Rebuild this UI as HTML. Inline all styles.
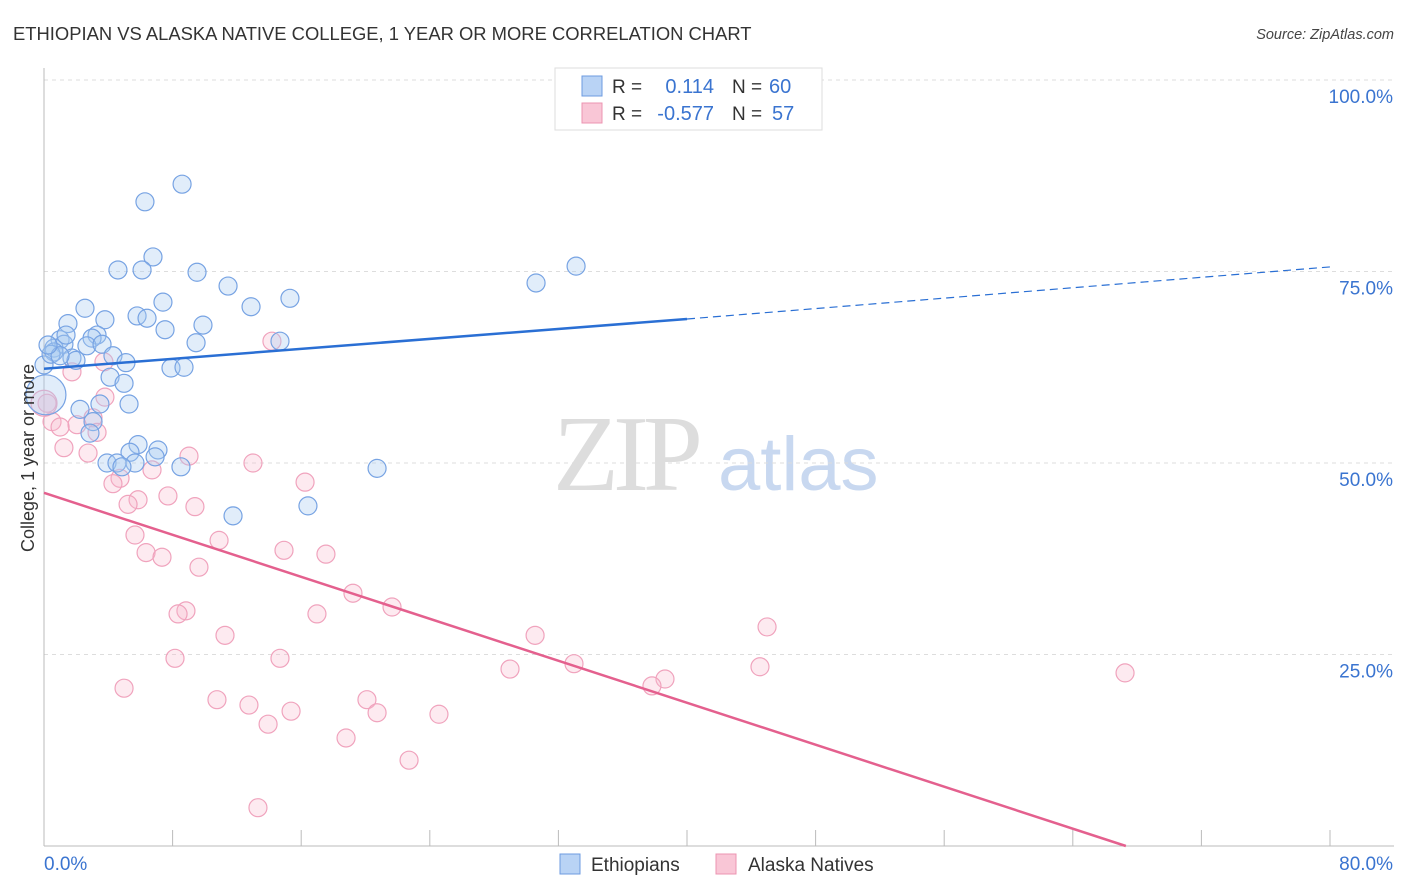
<!DOCTYPE html>
<html><head><meta charset="utf-8"><style>
body{margin:0;background:#fff;font-family:"Liberation Sans",sans-serif}
</style></head><body>
<svg id="c" width="1406" height="892" xmlns="http://www.w3.org/2000/svg" style="display:block">
<text x="13" y="40" font-size="18.4" fill="#333">ETHIOPIAN VS ALASKA NATIVE COLLEGE, 1 YEAR OR MORE CORRELATION CHART</text>
<text x="1394" y="39" font-size="14.5" font-style="italic" fill="#444" text-anchor="end">Source: ZipAtlas.com</text>
<g>
<text x="553" y="490" font-size="108" font-family="Liberation Serif" fill="#ddd" letter-spacing="-6">ZIP</text>
<text x="718" y="490" font-size="76" fill="#c8d8f0">atlas</text></g>
<g id="grid"></g><g id="axes"></g><g id="pts"></g><g id="lines"></g>
<text transform="translate(34,458) rotate(-90)" font-size="18" fill="#333" text-anchor="middle">College, 1 year or more</text>
<g>
<rect x="555" y="68" width="267" height="62" fill="#fff" stroke="#ddd"/>
<rect x="582" y="76" width="20" height="20" fill="#b9d3f5" stroke="#6d9be0"/>
<rect x="582" y="103" width="20" height="20" fill="#f9c6d6" stroke="#ec94b1"/>
<text x="612" y="93" font-size="19" fill="#333">R =</text><text x="714" y="93" font-size="20" fill="#3a74d0" text-anchor="end">0.114</text>
<text x="732" y="93" font-size="19" fill="#333">N =</text><text x="769" y="93" font-size="20" fill="#3a74d0">60</text>
<text x="612" y="120" font-size="19" fill="#333">R =</text><text x="714" y="120" font-size="20" fill="#3a74d0" text-anchor="end">-0.577</text>
<text x="732" y="120" font-size="19" fill="#333">N =</text><text x="772" y="120" font-size="20" fill="#3a74d0">57</text>
</g>
<g>
<rect x="560" y="854" width="20" height="20" fill="#b9d3f5" stroke="#6d9be0"/>
<text x="591" y="871" font-size="19" fill="#333">Ethiopians</text>
<rect x="716" y="854" width="20" height="20" fill="#f9c6d6" stroke="#ec94b1"/>
<text x="748" y="871" font-size="19" fill="#333">Alaska Natives</text>
</g>
</svg>
<script>
const yTicks=[25,50,75,100];
const yTickLabels=["25.0%","50.0%","75.0%","100.0%"];
const xTicks=[0,8,16,24,32,40,48,56,64,72,80];
const blueX=[8.59,6.28,6.78,4.60,6.10,9.52,11.45,15.30,12.88,7.40,2.55,1.49,3.79,5.79,6.41,7.53,9.89,3.30,2.99,1.00,9.46,14.68,2.67,3.61,0.62,1.24,4.29,1.74,1.99,0.62,5.10,7.90,8.71,4.11,4.98,0.12,0.0,2.24,3.48,5.29,3.05,2.86,5.85,7.09,5.35,6.91,3.92,4.54,5.66,4.85,8.52,20.72,16.42,11.76,30.61,33.10,0.44,1.00,0.25,1.37];
const blueY=[86.4,84.1,76.9,75.2,75.2,74.9,73.1,71.5,70.4,71.0,70.2,68.2,68.7,69.2,68.9,67.4,68.0,66.7,66.3,66.1,65.7,65.9,65.3,65.5,65.0,65.5,64.0,63.7,63.4,64.5,63.1,62.4,62.5,61.2,60.4,58.9,62.8,57.0,57.7,57.7,55.4,53.9,52.4,51.7,51.4,50.8,50.0,50.0,50.0,49.5,49.5,49.3,44.4,43.1,73.5,75.7,64.2,64.0,65.4,66.7];
const pinkX=[14.18,3.73,1.74,3.79,0.19,3.05,0.50,2.05,1.00,3.30,2.74,1.24,9.02,13.00,6.72,4.73,4.29,7.71,16.24,5.85,5.23,9.39,5.66,10.89,6.35,7.34,14.93,17.54,9.64,19.22,21.65,8.83,8.34,16.98,11.26,30.55,44.98,8.15,14.68,32.97,28.99,38.63,37.82,44.54,67.25,4.98,10.76,12.75,15.37,20.09,20.72,13.94,24.57,18.79,22.71,13.31,0.0];
const pinkY=[65.9,63.2,61.9,58.6,57.8,55.9,55.4,55.0,54.7,54.0,51.3,52.0,50.9,50.0,49.1,48.0,47.3,45.7,47.5,45.2,44.6,44.3,40.6,39.9,38.3,37.7,38.6,38.1,36.4,33.0,31.2,30.7,30.3,30.3,27.5,27.5,28.6,24.5,24.5,23.8,23.1,21.8,20.9,23.4,22.6,20.6,19.1,18.4,17.6,19.1,17.4,15.9,17.2,14.1,11.2,5.0,57.8];
const blueTrend=[[0,62.3],[40,68.8],[80,75.6]];
const pinkTrend=[[0,46.1],[67.3,0]];
const X=v=>44+v/80*1286, Y=v=>846-v/100*766;
const NS="http://www.w3.org/2000/svg";
function mk(t,a,p){const e=document.createElementNS(NS,t);for(const k in a)e.setAttribute(k,a[k]);p.appendChild(e);return e;}
const grid=document.getElementById('grid'),axes=document.getElementById('axes'),pts=document.getElementById('pts'),lines=document.getElementById('lines');
yTicks.forEach((t,i)=>{
 const l=mk('line',{x1:44,x2:1394,y1:Y(t),y2:Y(t),stroke:'#ddd','stroke-dasharray':'4,4'},grid);
 
 
 const tx=mk('text',{x:1393,y:Y(t)+23,'font-size':19,fill:'#3a74d0','text-anchor':'end'},axes);
 tx.textContent=yTickLabels[i];
 
 
});
const ax=mk('line',{x1:44,x2:1394,y1:846,y2:846,stroke:'#bbb'},axes);


const ay=mk('line',{x1:44,x2:44,y1:68,y2:846,stroke:'#bbb'},axes);


xTicks.forEach(t=>{const l=mk('line',{x1:X(t),x2:X(t),y1:830,y2:846,stroke:'#bbb'},axes);
 
 });
const x0=mk('text',{x:44,y:870,'font-size':19,fill:'#3a74d0'},axes);x0.textContent='0.0%';


const x1=mk('text',{x:1393,y:870,'font-size':19,fill:'#3a74d0','text-anchor':'end'},axes);x1.textContent='80.0%';


pinkX.forEach((v,i)=>{const c=mk('circle',{cx:X(v),cy:Y(pinkY[i]),r:i==pinkX.length-1?13:9,fill:'rgba(248,185,206,0.3)',stroke:'#f0a3bd','stroke-width':1.2},pts);
 
 });
blueX.forEach((v,i)=>{const c=mk('circle',{cx:X(v),cy:Y(blueY[i]),r:i==35?20:9,fill:'rgba(170,202,242,0.35)',stroke:'#77a3e3','stroke-width':1.2},pts);
 
 });
const b1=mk('line',{x1:X(blueTrend[0][0]),y1:Y(blueTrend[0][1]),x2:X(blueTrend[1][0]),y2:Y(blueTrend[1][1]),stroke:'#2a6fd4','stroke-width':2.5},lines);


const b2=mk('line',{x1:X(blueTrend[1][0]),y1:Y(blueTrend[1][1]),x2:X(blueTrend[2][0]),y2:Y(blueTrend[2][1]),stroke:'#2a6fd4','stroke-width':1.2,'stroke-dasharray':'8,5'},lines);


const p1=mk('line',{x1:X(pinkTrend[0][0]),y1:Y(pinkTrend[0][1]),x2:X(pinkTrend[1][0]),y2:Y(pinkTrend[1][1]),stroke:'#e4608e','stroke-width':2.5},lines);


</script>
</body></html>
